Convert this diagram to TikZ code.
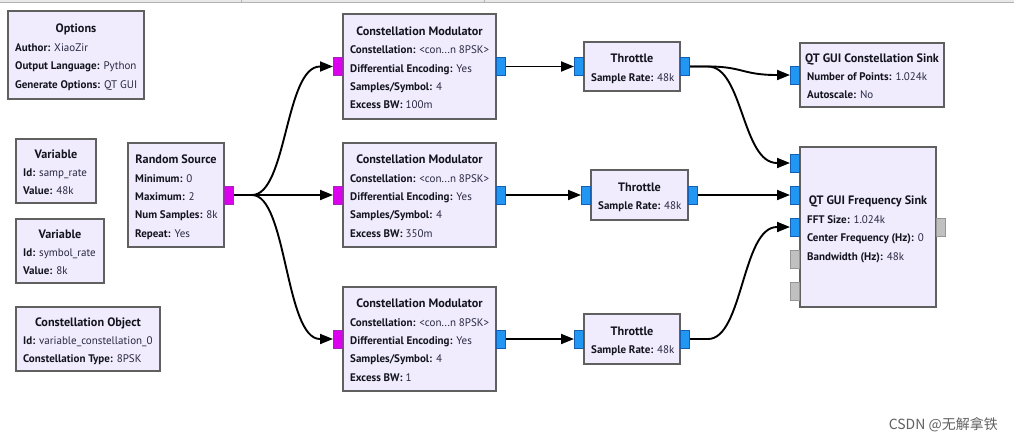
\documentclass[tikz,border=0pt]{standalone}
\usepackage{fontspec}
\setmainfont{PT Sans}
\newfontfamily\cjk{Noto Sans CJK SC}
\usetikzlibrary{arrows.meta,calc}
\definecolor{blkfill}{RGB}{240,236,254}
\definecolor{blkline}{RGB}{96,96,96}
\definecolor{txtkey}{RGB}{20,20,30}
\definecolor{txtval}{RGB}{40,40,64}
\definecolor{magfill}{RGB}{221,0,238}
\definecolor{magline}{RGB}{160,40,180}
\definecolor{bluefill}{RGB}{33,150,243}
\definecolor{blueline}{RGB}{20,95,175}
\definecolor{grayfill}{RGB}{192,192,192}
\definecolor{grayline}{RGB}{150,150,150}
\definecolor{stripc}{RGB}{232,232,232}
\newcommand\kv[2]{{\bfseries\color{txtkey}#1:} #2}
\tikzset{
  blk/.style={draw=blkline, fill=blkfill, line width=1.6pt, inner sep=0pt},
  ttl/.style={font=\bfseries\fontsize{12.2}{12}\selectfont, text=txtkey, inner sep=0pt},
  par/.style={font=\fontsize{11}{11}\selectfont, text=txtval, inner sep=0pt, anchor=base west},
  port/.style={line width=1pt, minimum width=9pt, minimum height=18pt, inner sep=0pt},
  pmag/.style={port, draw=magline, fill=magfill},
  pblue/.style={port, draw=blueline, fill=bluefill},
  pgray/.style={port, draw=grayline, fill=grayfill},
  wire/.style={line width=1.9pt, -{Triangle[length=13pt,width=10pt]}},
}
\newcommand\blk[8]{%
  \node[blk, minimum width={(#4-#2)*1pt}, minimum height={(#5-#3)*1pt}] (#1) at ({(#2+#4)/2},{(#3+#5)/2}) {};
  \pgfmathsetmacro\tyy{(#3+#5)/2+1.5-#7*9.2+4}
  \node[ttl, anchor=base] (#1-t) at ({(#2+#4)/2},\tyy) {#6};
  \foreach \pline [count=\pk] in {#8} {\node[par] (#1-\pk) at ({#2+7},{\tyy+18.4*\pk}) {\pline};}
}
\newcommand\curvewire[2]{\draw[wire] (#1.east) -- ($(#1.east)+(18,0)$) .. controls ($(#1.east)+(53,0)$) and ($(#2.west)+(-48,0)$) .. ($(#2.west)+(-13,0)$) -- (#2.west);}
\begin{document}
\begin{tikzpicture}[x=1pt,y=-1pt]
\useasboundingbox (0,0) rectangle (1014,445);
\fill[stripc] (0,0) rectangle (1014,2.2);
\draw[gray!60,line width=0.8pt] (0,2.4) -- (1014,2.4) (241,0) -- (241,2.4) (484,0) -- (484,2.4);

\blk{opt}{8}{11}{144}{99}{Options}{3}{\kv{Author}{XiaoZir},\kv{Output Language}{Python},\kv{Generate Options}{QT GUI}}
\blk{var1}{16}{139}{96}{203}{Variable}{2}{\kv{Id}{samp\_rate},\kv{Value}{48k}}
\blk{var2}{16}{219}{104}{283}{Variable}{2}{\kv{Id}{symbol\_rate},\kv{Value}{8k}}
\blk{cobj}{16}{307}{160}{371}{Constellation Object}{2}{\kv{Id}{variable\_constellation\_0},\kv{Constellation Type}{8PSK}}
\blk{rs}{128}{143}{224}{247}{Random Source}{4}{\kv{Minimum}{0},\kv{Maximum}{2},\kv{Num Samples}{8k},\kv{Repeat}{Yes}}
\blk{cm1}{343}{14}{496}{119}{Constellation Modulator}{4}{\kv{Constellation}{<con...n 8PSK>},\kv{Differential Encoding}{Yes},\kv{Samples/Symbol}{4},\kv{Excess BW}{100m}}
\blk{cm2}{343}{143}{496}{247}{Constellation Modulator}{4}{\kv{Constellation}{<con...n 8PSK>},\kv{Differential Encoding}{Yes},\kv{Samples/Symbol}{4},\kv{Excess BW}{350m}}
\blk{cm3}{343}{287}{496}{391}{Constellation Modulator}{4}{\kv{Constellation}{<con...n 8PSK>},\kv{Differential Encoding}{Yes},\kv{Samples/Symbol}{4},\kv{Excess BW}{1}}
\blk{th1}{584}{42}{680}{91}{Throttle}{1}{\kv{Sample Rate}{48k}}
\blk{th2}{591}{170}{688}{220}{Throttle}{1}{\kv{Sample Rate}{48k}}
\blk{th3}{584}{314}{680}{364}{Throttle}{1}{\kv{Sample Rate}{48k}}
\blk{qcs}{800}{43}{944}{107}{QT GUI Constellation Sink}{2}{\kv{Number of Points}{1.024k},\kv{Autoscale}{No}}
\blk{qfs}{800}{147}{936}{307}{QT GUI Frequency Sink}{3}{\kv{FFT Size}{1.024k},\kv{Center Frequency (Hz)}{0},\kv{Bandwidth (Hz)}{48k}}

\node[pmag] (rs-o) at (229,195) {};
\node[pmag] (cm1-i) at (338,66.5) {};
\node[pblue] (cm1-o) at (501,66.5) {};
\node[pmag] (cm2-i) at (338,195) {};
\node[pblue] (cm2-o) at (501,195) {};
\node[pmag] (cm3-i) at (338,339) {};
\node[pblue] (cm3-o) at (501,339) {};
\node[pblue] (th1-i) at (579,66.5) {};
\node[pblue] (th1-o) at (685,66.5) {};
\node[pblue] (th2-i) at (586,195) {};
\node[pblue] (th2-o) at (693,195) {};
\node[pblue] (th3-i) at (579,339) {};
\node[pblue] (th3-o) at (685,339) {};
\node[pblue] (qcs-i) at (795,75) {};
\node[pblue] (qfs-i1) at (795,163) {};
\node[pblue] (qfs-i2) at (795,195) {};
\node[pblue] (qfs-i3) at (795,227) {};
\node[pgray] (qfs-i4) at (795,259) {};
\node[pgray] (qfs-i5) at (795,291) {};
\node[pgray] (qfs-o) at (941,227) {};

\curvewire{rs-o}{cm1-i}
\draw[wire] (rs-o.east) -- (cm2-i.west);
\curvewire{rs-o}{cm3-i}
\draw[wire] (cm1-o.east) -- (th1-i.west);
\draw[wire] (cm2-o.east) -- (th2-i.west);
\draw[wire] (cm3-o.east) -- (th3-i.west);
\curvewire{th1-o}{qcs-i}
\curvewire{th1-o}{qfs-i1}
\draw[wire] (th2-o.east) -- (qfs-i2.west);
\curvewire{th3-o}{qfs-i3}

\node[font=\cjk\fontsize{14}{14}\selectfont, text=gray!75!black, anchor=east, inner sep=0pt] (wm) at (998,425) {CSDN @无解拿铁};
\end{tikzpicture}
\end{document}
